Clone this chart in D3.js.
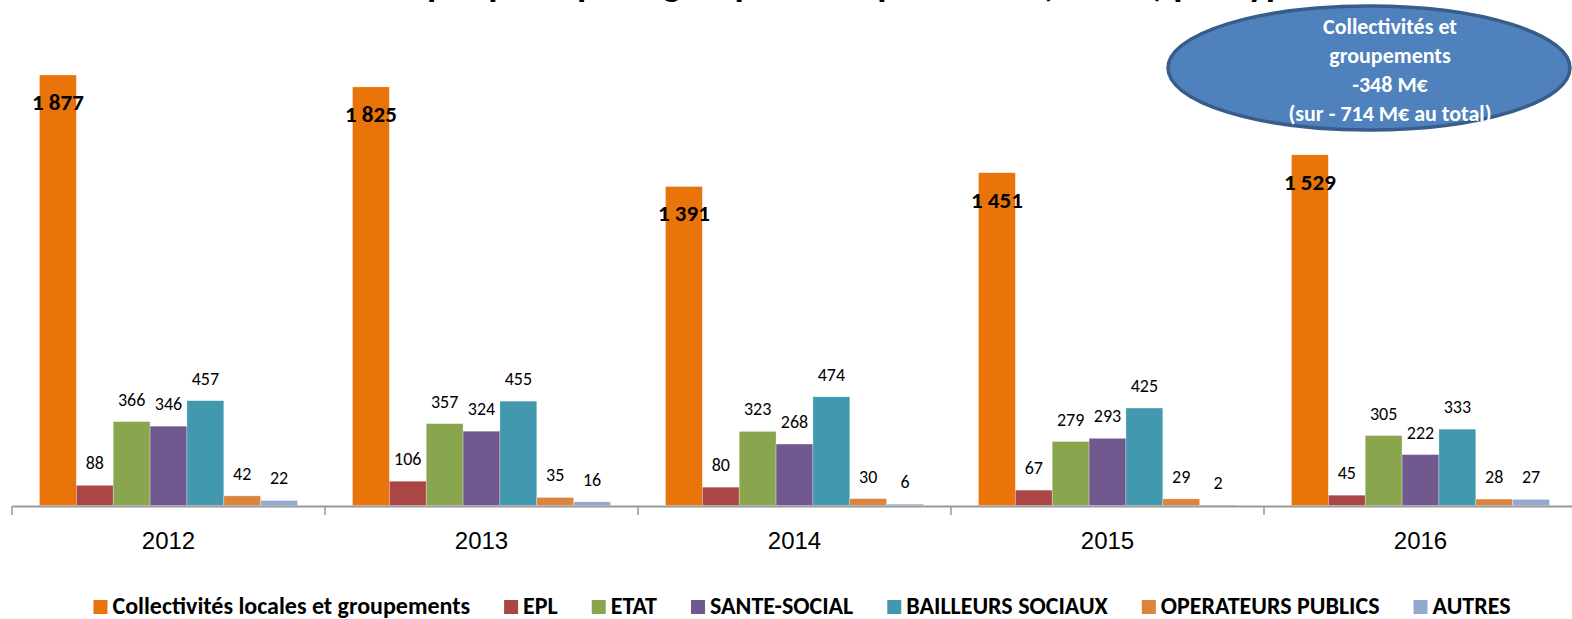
<!DOCTYPE html>
<html lang="fr">
<head>
<meta charset="UTF-8">
<title>Encours par groupes d'emprunteurs</title>
<script src="https://cdn.jsdelivr.net/npm/d3@7"></script>
<style>
    body { margin: 0; background: #fff; }
    svg { display: block; font-family: Carlito, Lato, "Open Sans", sans-serif; }
</style>
</head>
<body>
<div id="chart"></div>
<script>
    var width = 1572;
    var height = 619;

    // données (M€)
    var years = ["2012", "2013", "2014", "2015", "2016"];
    var series = ["Collectivités locales et groupements", "EPL", "ETAT", "SANTE-SOCIAL",
                  "BAILLEURS SOCIAUX", "OPERATEURS PUBLICS", "AUTRES"];
    var collectivites = [1877, 1825, 1391, 1451, 1529];
    var epl = [88, 106, 80, 67, 45];
    var etat = [366, 357, 323, 279, 305];
    var santeSocial = [346, 324, 268, 293, 222];
    var bailleurs = [457, 455, 474, 425, 333];
    var operateurs = [42, 35, 30, 29, 28];
    var autres = [22, 16, 6, 2, 27];
    var colors = ["#E8740A", "#AA4643", "#89A54E", "#71588F", "#4198AF", "#DB843D", "#93A9CF"];

    var values = [collectivites, epl, etat, santeSocial, bailleurs, operateurs, autres];
    var rows = [];
    years.forEach(function (y, i) {
        series.forEach(function (s, j) {
            rows.push({year: y, serie: s, idx: j, value: values[j][i]});
        });
    });

    var svg = d3.select("#chart")
            .append("svg")
            .attr("width", width)
            .attr("height", height);

    // titre (coupé en haut dans l'original, seuls les jambages dépassent)
    svg.append("text")
            .attr("x", 800)
            .attr("y", -4)
            .attr("text-anchor", "middle")
            .style("font-size", "38px")
            .style("font-weight", "bold")
            .text("Encours par principaux groupes d'emprunteurs (en M€) par type");

    var plot = {left: 12, bottom: 506, top: 75};

    var x0 = d3.scaleBand()
            .domain(years)
            .range([plot.left, plot.left + 313 * years.length]);

    var x1 = d3.scaleBand()
            .domain(series)
            .range([0, x0.bandwidth()])
            .paddingOuter(0.745);

    var yScale = d3.scaleLinear()
            .domain([0, d3.max(collectivites)])
            .range([plot.bottom - 0.5, plot.top]);

    // barres
    svg.append("g")
            .selectAll("rect")
            .data(rows)
            .enter()
            .append("rect")
            .attr("x", function (d) { return x0(d.year) + x1(d.serie); })
            .attr("y", function (d) { return yScale(d.value); })
            .attr("width", x1.bandwidth())
            .attr("height", function (d) { return yScale(0) - yScale(d.value); })
            .attr("fill", function (d) { return colors[d.idx]; })
            .attr("stroke", "#fff")
            .attr("stroke-opacity", 0.5)
            .attr("stroke-width", 0.6);

    // étiquettes
    svg.append("g")
            .selectAll("text")
            .data(rows)
            .enter()
            .append("text")
            .attr("x", function (d) { return x0(d.year) + x1(d.serie) + x1.bandwidth() / 2; })
            .attr("y", function (d) {
                return d.idx === 0 ? yScale(d.value) + 35 : yScale(d.value) - 16;
            })
            .attr("text-anchor", "middle")
            .style("font-size", function (d) { return d.idx === 0 ? "23px" : "18px"; })
            .style("font-weight", function (d) { return d.idx === 0 ? "bold" : "normal"; })
            .attr("fill", "#000")
            .text(function (d) { return d3.format(",")(d.value).replace(",", " "); });

    // axe X
    var xAxis = d3.axisBottom(x0).tickSize(0).tickPadding(26);
    var gx = svg.append("g")
            .attr("transform", "translate(0," + plot.bottom + ")")
            .call(xAxis);
    gx.select(".domain").attr("stroke", "#999").attr("stroke-width", 2);
    gx.selectAll("text").style("font-size", "24px").attr("fill", "#000");

    gx.selectAll(".sep")
            .data(years)
            .enter()
            .append("line")
            .attr("class", "sep")
            .attr("x1", function (d) { return x0(d); })
            .attr("x2", function (d) { return x0(d); })
            .attr("y1", 0)
            .attr("y2", 9)
            .attr("stroke", "#999")
            .attr("stroke-width", 1.5);

    // légende
    var legend = svg.append("g").attr("transform", "translate(0,606)");
    var items = legend.selectAll("g")
            .data(series)
            .enter()
            .append("g");
    items.append("rect")
            .attr("y", -6)
            .attr("width", 14)
            .attr("height", 14)
            .attr("fill", function (d, i) { return colors[i]; });
    items.append("text")
            .attr("x", 19)
            .attr("y", 8)
            .style("font-size", "24px")
            .style("font-weight", "bold")
            .text(function (d) { return d; });
    var gap = 34;
    var pos = 0;
    var offsets = [];
    items.each(function () {
        offsets.push(pos);
        pos += 19 + d3.select(this).select("text").node().getComputedTextLength() + gap;
    });
    var total = pos - gap;
    var start = 802 - total / 2;
    items.attr("transform", function (d, i) { return "translate(" + (start + offsets[i]) + ",0)"; });

    // bulle
    var bubble = svg.append("g");
    bubble.append("ellipse")
            .attr("cx", 1369)
            .attr("cy", 68)
            .attr("rx", 201)
            .attr("ry", 62)
            .attr("fill", "#4F81BD")
            .attr("stroke", "#385D8A")
            .attr("stroke-width", 3.5);
    var bubbleLines = ["Collectivités et", "groupements", "-348 M€", "(sur - 714 M€ au total)"];
    bubble.selectAll("text")
            .data(bubbleLines)
            .enter()
            .append("text")
            .attr("x", 1390)
            .attr("y", function (d, i) { return 34 + i * 29; })
            .attr("text-anchor", "middle")
            .attr("fill", "#fff")
            .style("font-size", "22px")
            .style("font-weight", "bold")
            .text(function (d) { return d; });
</script>
</body>
</html>
